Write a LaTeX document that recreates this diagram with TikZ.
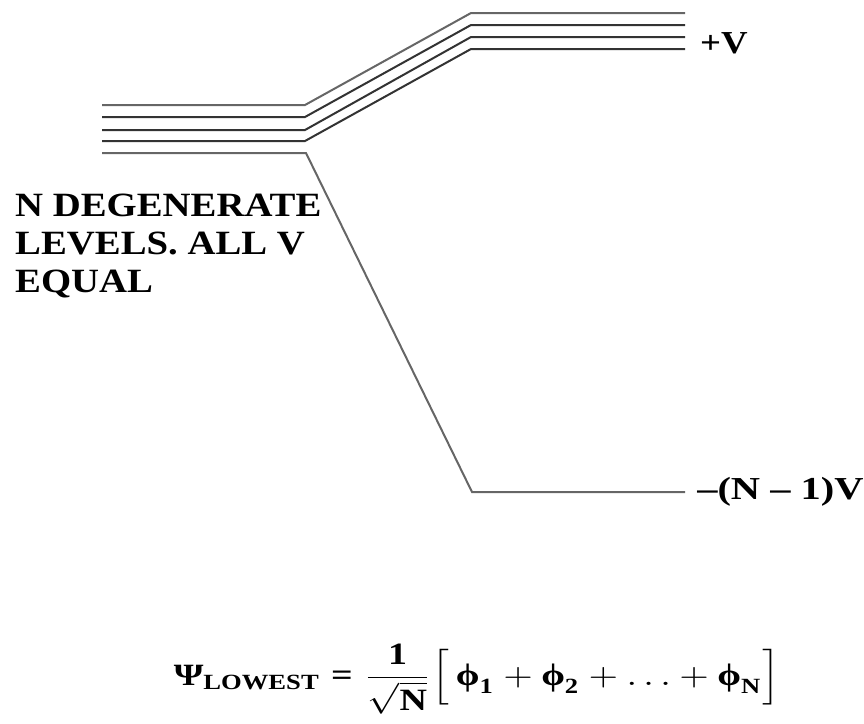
\documentclass[tikz,border=0pt]{standalone}
\usepackage{fontspec}
\usepackage{amsmath}
\setmainfont{Liberation Serif}
\begin{document}
\begin{tikzpicture}[x=1pt,y=-1pt,
  lev/.style={line width=2pt,draw=black!80},
  levlight/.style={line width=2pt,draw=black!60},
  lbl/.style={font=\fontsize{32}{36}\selectfont\bfseries,xscale=1.15,inner sep=0pt},
  txt/.style={font=\fontsize{34}{38}\selectfont\bfseries,xscale=1.14,inner sep=0pt,align=left}]
\useasboundingbox (0,0) rectangle (864,723);
% level coordinates
\foreach \i/\yl/\yr in {1/105/13,2/117/25,3/130/37,4/141/49}{
  \coordinate (L\i) at (102,\yl);
  \coordinate (B\i) at (305,\yl);
  \coordinate (U\i) at (471,\yr);
  \coordinate (R\i) at (685,\yr);
}
\coordinate (L5) at (102,153);
\coordinate (B5) at (306,153);
\coordinate (D5) at (472,492);
\coordinate (E5) at (685,492);
\draw[levlight] (L1) -- (B1) -- (U1) -- (R1);
\draw[lev] (L2) -- (B2) -- (U2) -- (R2);
\draw[lev] (L3) -- (B3) -- (U3) -- (R3);
\draw[lev] (L4) -- (B4) -- (U4) -- (R4);
\draw[levlight] (L5) -- (B5) -- (D5) -- (E5);
% labels
\node[lbl,anchor=west] (plusV) at (700,43) {+V};
\node[lbl,anchor=west,xscale=1.1] (minusV) at (697,492) {–(N – 1)V};
\node[txt,anchor=north west] (deg) at (15,194) {N DEGENERATE\\LEVELS. ALL V\\EQUAL};
% equation
\node[xscale=3.8,yscale=3.1,inner sep=0pt] (eq) at (477,679)
 {$\textbf{Ψ}_{\textbf{LOWEST}}\mathrel{\textbf{=}}\dfrac{\textbf{1}}{\sqrt{\textbf{N}}}\Bigl[\,\textbf{ϕ}_{\textbf{1}}+\textbf{ϕ}_{\textbf{2}}+\ldots+\textbf{ϕ}_{\textbf{N}}\Bigr]$};
\end{tikzpicture}
\end{document}
